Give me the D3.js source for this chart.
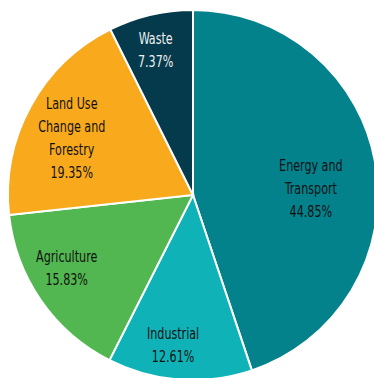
<!DOCTYPE html>
<html>
<head>
<meta charset="utf-8">
<script src="https://cdn.jsdelivr.net/npm/d3@7"></script>
<style>
  html, body { margin: 0; padding: 0; background: #ffffff; }
  svg { display: block; }
  text { font-family: "DejaVu Sans Condensed", "Liberation Sans", sans-serif; font-size: 15.5px; }
</style>
</head>
<body>
<svg id="chart" width="374" height="378"></svg>
<script>
// Emission shares by sector, clockwise from 12 o'clock
const sectors = ["Energy and Transport", "Industrial", "Agriculture", "Land Use Change and Forestry", "Waste"];
const labelLines = [["Energy and", "Transport"], ["Industrial"], ["Agriculture"], ["Land Use", "Change and", "Forestry"], ["Waste"]];
const shares = [44.85, 12.61, 15.83, 19.35, 7.37];
const colors = ["#03828c", "#0fb3b7", "#52b750", "#f8aa1c", "#053a4d"];
const textColors = ["#111111", "#111111", "#111111", "#111111", "#eeeeee"];

const data = sectors.map((name, i) => ({ name, lines: labelLines[i], value: shares[i], color: colors[i], textColor: textColors[i] }));

const svg = d3.select("#chart");
const cx = 193, cy = 195, radius = 185;
const g = svg.append("g").attr("transform", `translate(${cx},${cy})`);

const pie = d3.pie().value(d => d.value).sort(null);
const arc = d3.arc().innerRadius(0).outerRadius(radius);
const arcs = pie(data);

g.selectAll("path.slice")
  .data(arcs)
  .join("path")
  .attr("class", "slice")
  .attr("d", arc)
  .attr("fill", d => d.data.color)
  .attr("stroke", "#ffffff")
  .attr("stroke-width", 2);

// Label placement: radius (and angular nudge in radians) per slice
const labelRadius = [118, 151, 146, 134, 150];
const labelNudge = [0.11, 0.06, 0.08, -0.06, -0.02];
const lineHeight = 23;

arcs.forEach((a, i) => {
  const ang = (a.startAngle + a.endAngle) / 2 + labelNudge[i];
  const r = labelRadius[i];
  const x = Math.sin(ang) * r;
  const y = -Math.cos(ang) * r;
  const lines = a.data.lines.concat([d3.format(".2f")(a.data.value) + "%"]);
  // narrow type: squeeze horizontally around the label centre
  const t = g.append("text")
    .attr("transform", `translate(${x},${y}) scale(0.8,1)`)
    .attr("text-anchor", "middle")
    .attr("fill", a.data.textColor);
  const y0 = -(lines.length - 1) * lineHeight / 2;
  lines.forEach((ln, k) => {
    t.append("tspan")
      .attr("x", 0)
      .attr("y", y0 + k * lineHeight)
      .attr("dy", "0.35em")
      .text(ln);
  });
});
</script>
</body>
</html>
